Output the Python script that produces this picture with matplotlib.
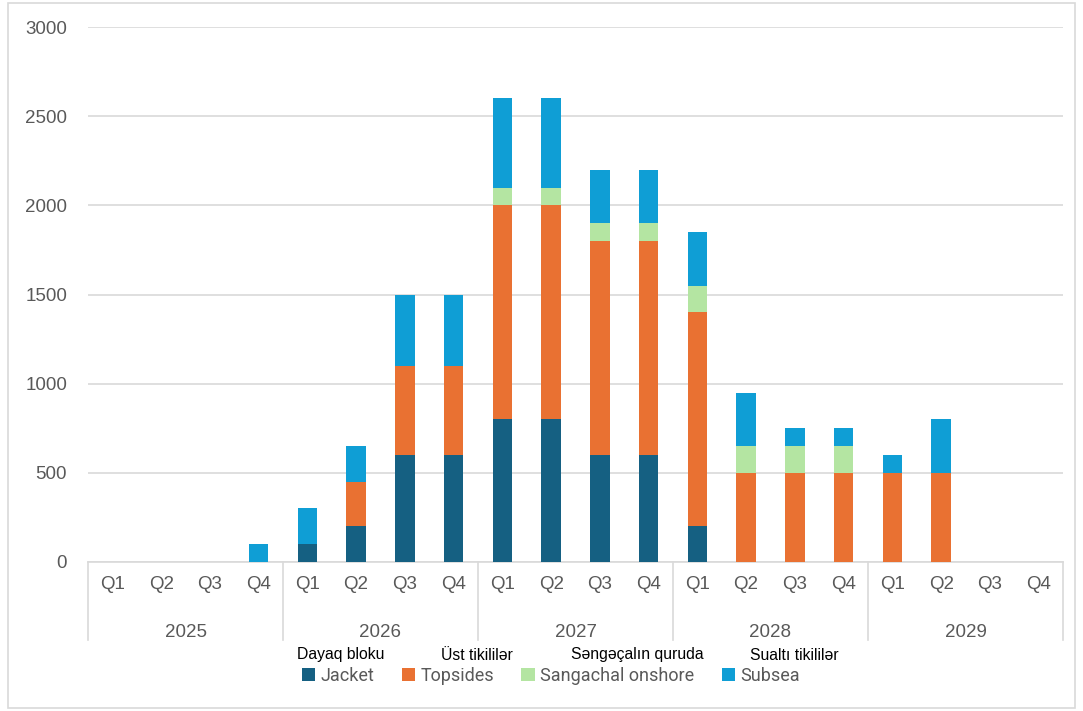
import numpy as np
import matplotlib
matplotlib.use("Agg")
import matplotlib.pyplot as plt
from matplotlib.patches import Rectangle
from matplotlib.transforms import blended_transform_factory

plt.rcParams['font.family'] = ['Liberation Sans', 'DejaVu Sans']

years = ['2025', '2026', '2027', '2028', '2029']
quarters = ['Q1', 'Q2', 'Q3', 'Q4']

# quarterly workload by scope, 2025 Q1 .. 2029 Q4
jacket   = [0, 0, 0, 0,    100, 200, 600, 600,    800, 800, 600, 600,    200, 0, 0, 0,      0, 0, 0, 0]
topsides = [0, 0, 0, 0,    0, 250, 500, 500,      1200, 1200, 1200, 1200, 1200, 500, 500, 500, 500, 500, 0, 0]
onshore  = [0, 0, 0, 0,    0, 0, 0, 0,            100, 100, 100, 100,    150, 150, 150, 150, 0, 0, 0, 0]
subsea   = [0, 0, 0, 100,  200, 200, 400, 400,    500, 500, 300, 300,    300, 300, 100, 100, 100, 300, 0, 0]

names_en = ['Jacket', 'Topsides', 'Sangachal onshore', 'Subsea']
names_az = ['Dayaq bloku', 'Üst tikililər', 'Səngəçalın quruda', 'Sualtı tikililər']
colors = ['#156082', '#E97132', '#B4E5A2', '#0F9ED5']

fig = plt.figure(figsize=(10.83, 7.11), dpi=100)
ax = fig.add_axes([88/1083, 1 - 562/711, 975/1083, 535/711])

x = np.arange(len(jacket))
series = [jacket, topsides, onshore, subsea]
bottom = np.zeros(len(x))
handles = []
for vals, c in zip(series, colors):
    vals = np.array(vals, dtype=float)
    b = ax.bar(x, vals, 0.4, bottom=bottom, color=c, linewidth=0, zorder=3)
    handles.append(b)
    bottom += vals

ax.set_xlim(-0.5, len(x) - 0.5)
ax.set_ylim(0, 3000)
ax.set_yticks(range(0, 3001, 500))
ax.grid(axis='y', color='#d9d9d9', linewidth=1.2, zorder=0)
for s in ['top', 'right', 'left']:
    ax.spines[s].set_visible(False)
ax.spines['bottom'].set_color('#d9d9d9')
ax.spines['bottom'].set_linewidth(1.2)
ax.tick_params(axis='y', length=0, pad=15, labelsize=13.5, labelcolor='#595959')
ax.tick_params(axis='x', length=0, pad=10, labelsize=13.5, labelcolor='#595959')
ax.set_xticks(x)
ax.set_xticklabels(quarters * len(years))

# year level of the category axis
tr = blended_transform_factory(ax.transData, ax.transAxes)
for i, yr in enumerate(years):
    ax.text(i * 4 + 1.5, -0.131, yr, transform=tr, ha='center', va='center',
            fontsize=13.5, color='#595959')
for k in range(len(years) + 1):
    ax.plot([k * 4 - 0.5] * 2, [0, -0.146], transform=tr, color='#d9d9d9',
            linewidth=1.2, clip_on=False)

# legend: English entries with Azerbaijani captions above
leg = fig.legend(handles, names_en, loc='center', bbox_to_anchor=(551/1083, 1 - 676/711),
                 ncol=4, frameon=False, handlelength=0.75, handleheight=0.75,
                 handletextpad=0.3, columnspacing=1.5,
                 prop={'family': 'Roboto', 'size': 13})
for t in leg.get_texts():
    t.set_color('#595959')

for xp, lab in zip([297, 441, 571, 750], names_az):
    fig.text(xp / 1083, 1 - 655/711, lab, ha='left', va='center', fontsize=11.3, color='black')

fig.patches.append(Rectangle((8/1083, 3/711), 1067/1083, 705/711, transform=fig.transFigure,
                             fill=False, edgecolor='#d9d9d9', linewidth=1.2))

fig.savefig('out.png', dpi=100)
